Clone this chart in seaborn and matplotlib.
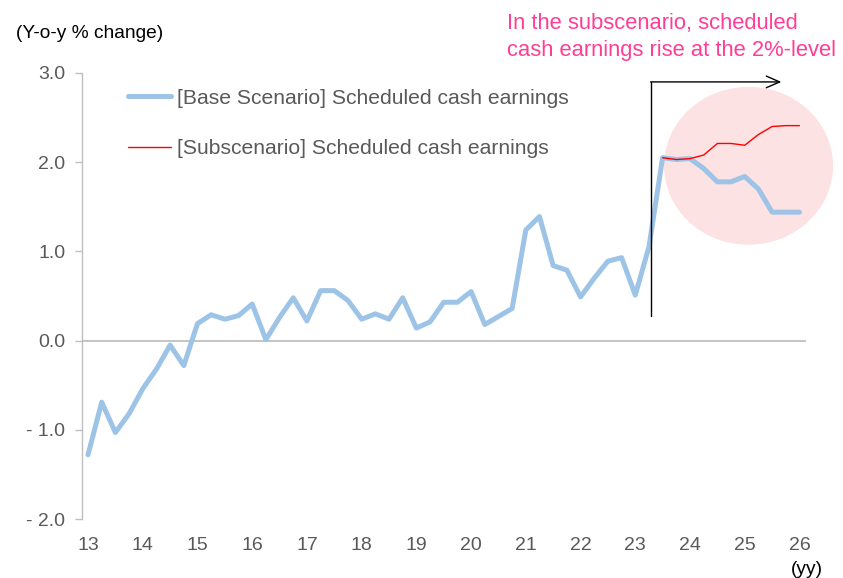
import numpy as np
import pandas as pd
import matplotlib
matplotlib.use("Agg")
import matplotlib.pyplot as plt
from matplotlib.patches import Ellipse
import seaborn as sns

# ---- data ----
periods = pd.period_range("2013Q1", "2026Q1", freq="Q")
base_values = [-1.28, -0.69, -1.03, -0.82, -0.54, -0.32, -0.05, -0.28,
               0.19, 0.29, 0.24, 0.28, 0.41, 0.01, 0.26, 0.48,
               0.22, 0.56, 0.56, 0.45, 0.24, 0.30, 0.24, 0.48,
               0.14, 0.21, 0.43, 0.43, 0.55, 0.18, 0.27, 0.36,
               1.24, 1.39, 0.84, 0.79, 0.49, 0.70, 0.89, 0.93,
               0.51, 1.05, 2.05, 2.03, 2.04, 1.93, 1.78, 1.78,
               1.84, 1.70, 1.44, 1.44, 1.44]
sub_start = "2023Q3"
sub_values = [2.05, 2.03, 2.04, 2.08, 2.21, 2.21, 2.19, 2.31, 2.40, 2.41, 2.41]
x_ticks = list(range(13, 27))
y_ticks = [3.0, 2.0, 1.0, 0.0, -1.0, -2.0]
y_tick_labels = ["3.0", "2.0", "1.0", "0.0", "- 1.0", "- 2.0"]
base_label = "[Base Scenario] Scheduled cash earnings"
sub_label = "[Subscenario] Scheduled cash earnings"
note = "In the subscenario, scheduled\ncash earnings rise at the 2%-level"

def to_x(p):
    return (p.year - 2000) + (p.quarter - 1) / 4

base_df = pd.DataFrame({"x": [to_x(p) for p in periods], "v": base_values})
sub_periods = pd.period_range(sub_start, periods[-1], freq="Q")
sub_df = pd.DataFrame({"x": [to_x(p) for p in sub_periods], "v": sub_values})

# ---- style ----
sns.set_theme(style="white")
plt.rcParams["font.family"] = ["Liberation Sans", "DejaVu Sans"]
gray_txt = "#595959"
axis_gray = "#BFBFBF"

fig = plt.figure(figsize=(8.43, 5.78), dpi=100)
ax = fig.add_axes([82/843, 1 - 519/578, (806-82)/843, (519-73)/578])

# highlight ellipse
ax.add_patch(Ellipse((25.07, 1.96), 3.09, 1.77, facecolor="#FDE2E3",
                     edgecolor="none", zorder=1, clip_on=False))

sns.lineplot(data=base_df, x="x", y="v", ax=ax, color="#9DC3E6",
             linewidth=3.6, label=base_label, zorder=3,
             solid_capstyle="round", solid_joinstyle="round")
sns.lineplot(data=sub_df, x="x", y="v", ax=ax, color="#FF0000",
             linewidth=1.0, label=sub_label, zorder=4)

ax.axhline(0, color=axis_gray, linewidth=1.3, zorder=2)

# bracket arrow
ax.plot([23.28, 23.28], [0.28, 2.90], color="black", linewidth=1.0, zorder=5,
        clip_on=False)
ax.annotate("", xy=(25.67, 2.90), xytext=(23.28, 2.90),
            arrowprops=dict(arrowstyle="->,head_length=0.8,head_width=0.35",
                            color="black", linewidth=1.0,
                            shrinkA=0, shrinkB=0), zorder=5)

ax.set_xlim(12.89, 26.12)
ax.set_ylim(-2.0, 3.0)
ax.set_xticks(x_ticks)
ax.set_xticklabels([str(t) for t in x_ticks])
ax.set_yticks(y_ticks)
ax.set_yticklabels(y_tick_labels)
ax.set_xlabel("")
ax.set_ylabel("")

for s in ["top", "right", "bottom"]:
    ax.spines[s].set_visible(False)
ax.spines["left"].set_color(axis_gray)
ax.spines["left"].set_linewidth(1.0)
ax.tick_params(axis="y", which="major", direction="out", length=5, width=1.0,
               color=axis_gray, labelcolor=gray_txt, labelsize=14, pad=7,
               left=True)
ax.tick_params(axis="x", which="major", length=0, labelcolor=gray_txt,
               labelsize=14, pad=13)
ax.grid(False)

leg = ax.legend(loc="upper left", bbox_to_anchor=(0.064, 0.965), frameon=False,
                fontsize=15.2, handlelength=2.0, handletextpad=0.3,
                labelspacing=1.5, borderaxespad=0, borderpad=0)
for t in leg.get_texts():
    t.set_color(gray_txt)

fig.text(16/843, 1 - 33/578, "(Y-o-y % change)", fontsize=13.8, color="black",
         ha="left", va="center")
fig.text(823/843, 1 - 569/578, "(yy)", fontsize=13.8, color="black",
         ha="right", va="center")
fig.text(507/843, 1 - 37/578, note, fontsize=15.8, color="#FF3D96",
         ha="left", va="center", linespacing=1.32)

fig.savefig("out.png", dpi=100)
